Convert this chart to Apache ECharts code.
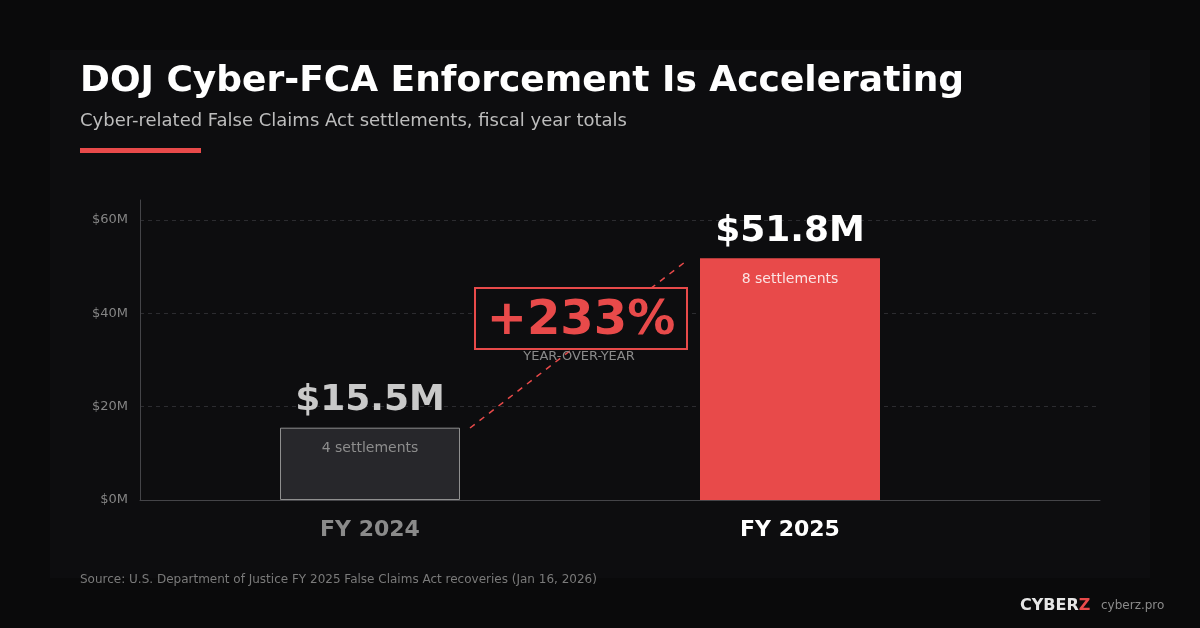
<!DOCTYPE html>
<html>
<head>
<meta charset="utf-8">
<script src="https://cdn.jsdelivr.net/npm/echarts@6/dist/echarts.min.js"></script>
<style>
  html, body { margin: 0; padding: 0; background: #0a0a0b; }
  #chart { width: 1200px; height: 628px; }
</style>
</head>
<body>
<div id="chart"></div>
<script>
const years = ['FY 2024', 'FY 2025'];
const totals = [15.5, 51.8];          // $M
const settlements = [4, 8];
const yTicks = [0, 20, 40, 60];
const yoyChange = '+233%';

const FONT = 'DejaVu Sans';
const RED = '#e84a4a';

const chart = echarts.init(document.getElementById('chart'));

const barData = totals.map((v, i) => ({
  value: v,
  itemStyle: i === 0
    ? { color: '#27272b', borderColor: '#8f8f8f', borderWidth: 1 }
    : { color: RED },
  label: {
    color: i === 0 ? '#c9c9c9' : '#ffffff'
  }
}));

const innerData = totals.map((v, i) => ({
  value: v,
  label: {
    color: i === 0 ? '#8d8d8d' : '#fbe3e3',
    formatter: settlements[i] + ' settlements'
  }
}));

const option = {
  backgroundColor: '#0a0a0b',
  animation: false,
  textStyle: { fontFamily: FONT },
  grid: [
    { left: 140, right: 100, top: 200, bottom: 128 },
    { left: 160, right: 200, top: 200, bottom: 128 }
  ],
  xAxis: [
    {
      gridIndex: 0, type: 'value', min: 0, max: 1,
      axisLine: { show: true, onZero: false, lineStyle: { color: '#444448' } },
      axisTick: { show: false }, axisLabel: { show: false }, splitLine: { show: false }
    },
    {
      gridIndex: 1, type: 'category', data: years,
      axisLine: { show: false }, axisTick: { show: false },
      axisLabel: {
        margin: 19, fontSize: 22, fontWeight: 'bold', fontFamily: FONT,
        color: (val) => val === years[1] ? '#ffffff' : '#8a8a8a'
      }
    }
  ],
  yAxis: [
    {
      gridIndex: 0, type: 'value', min: 0, max: 64.3, interval: 20,
      axisLine: { show: true, lineStyle: { color: '#444448' } },
      axisTick: { show: false },
      axisLabel: {
        color: '#858585', fontSize: 13, margin: 12, showMaxLabel: false,
        formatter: (v) => yTicks.includes(v) ? '$' + v + 'M' : ''
      },
      splitLine: { show: true, showMaxLine: false, lineStyle: { color: '#2c2c30', type: [4, 4] } }
    },
    {
      gridIndex: 1, type: 'value', min: 0, max: 64.3, interval: 20, show: false
    }
  ],
  series: [
    {
      type: 'bar', xAxisIndex: 1, yAxisIndex: 1, barWidth: 180, z: 3,
      data: barData,
      label: {
        show: true, position: 'top', distance: 9,
        fontSize: 36, fontWeight: 'bold', fontFamily: FONT,
        formatter: (p) => '$' + p.value.toFixed(1) + 'M'
      }
    },
    {
      type: 'bar', xAxisIndex: 1, yAxisIndex: 1, barWidth: 180, barGap: '-100%', z: 4,
      itemStyle: { color: 'transparent' },
      data: innerData,
      label: {
        show: true, position: 'insideTop', distance: 14,
        fontSize: 14, fontFamily: FONT
      },
      silent: true
    }
  ],
  graphic: [
    // inner panel
    { type: 'rect', z: -10, shape: { x: 50, y: 50, width: 1100, height: 528 },
      style: { fill: '#0d0d0f' } },
    { type: 'text', left: 80, top: 64,
      style: { text: 'DOJ Cyber-FCA Enforcement Is Accelerating', fill: '#ffffff',
        font: 'bold 36px "DejaVu Sans"' } },
    { type: 'text', left: 80, top: 112,
      style: { text: 'Cyber-related False Claims Act settlements, fiscal year totals', fill: '#bdbdbd',
        font: '18px "DejaVu Sans"' } },
    { type: 'rect', shape: { x: 80, y: 148, width: 121, height: 5 }, style: { fill: RED } },
    // yoy connector
    { type: 'line', z: 5, shape: { x1: 470, y1: 428, x2: 685, y2: 262 },
      style: { stroke: RED, lineWidth: 1.5, lineDash: [6, 6] } },
    { type: 'rect', z: 6, shape: { x: 475, y: 288, width: 212, height: 61 },
      style: { fill: '#0d0d0f', stroke: RED, lineWidth: 2 } },
    { type: 'text', z: 7, x: 581, y: 322,
      style: { text: yoyChange, fill: RED, font: 'bold 48px "DejaVu Sans"',
        textAlign: 'center', textVerticalAlign: 'middle' } },
    { type: 'text', z: 7, x: 579, y: 357,
      style: { text: 'YEAR-OVER-YEAR', fill: '#8a8a8a', font: '13px "DejaVu Sans"',
        textAlign: 'center', textVerticalAlign: 'middle' } },
    // footer
    { type: 'text', left: 80, top: 574,
      style: { text: 'Source: U.S. Department of Justice FY 2025 False Claims Act recoveries (Jan 16, 2026)',
        fill: '#7a7a7a', font: '12px "DejaVu Sans"' } },
    { type: 'text', x: 1020, y: 606,
      style: { text: '{a|CYBER}{b|Z}', textVerticalAlign: 'middle',
        rich: {
          a: { fill: '#e6e6e6', font: 'bold 16px "DejaVu Sans"' },
          b: { fill: RED, font: 'bold 16px "DejaVu Sans"' }
        } } },
    { type: 'text', x: 1101, y: 606,
      style: { text: 'cyberz.pro', fill: '#8a8a8a', font: '12px "DejaVu Sans"', textVerticalAlign: 'middle' } }
  ]
};

chart.setOption(option);
</script>
</body>
</html>
